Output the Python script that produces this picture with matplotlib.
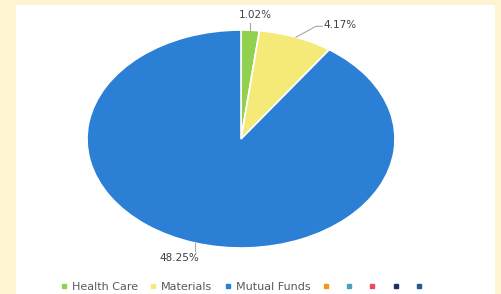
import numpy as np
import matplotlib.pyplot as plt
from matplotlib.patches import Rectangle
from matplotlib.lines import Line2D

# pie data (raw values shown as labels)
sectors = ['Health Care', 'Materials', 'Mutual Funds', '', '', '', '', '']
values = [1.02, 4.17, 48.25, 0, 0, 0, 0, 0]
colors = ['#92d050', '#f5ea78', '#2b7fd5', '#f7941d', '#4aa3b5', '#f5475a', '#1f2f66', '#245b8f']

fig = plt.figure(figsize=(5.02, 2.94), dpi=100)
fig.patch.set_facecolor('#fef4d2')
fig.patches.append(Rectangle((16 / 502, 0), (495 - 16) / 502, 1 - 5 / 294,
                             transform=fig.transFigure, facecolor='white',
                             edgecolor='none', zorder=-10))

ax = fig.add_axes([87 / 502, 46 / 294, 308 / 502, 218 / 294])
ax.set_zorder(1)
shown = [v for v in values if v > 0]
ax.pie(shown, colors=colors[:len(shown)], startangle=90, counterclock=False,
       wedgeprops=dict(edgecolor='white', linewidth=1.2), radius=1)
ax.set_aspect('auto')
ax.set_xlim(-1, 1)
ax.set_ylim(-1, 1)
ax.axis('off')

# leader lines and labels
total = sum(shown)
cum = np.cumsum([0] + shown)
mids = (cum[:-1] + cum[1:]) / 2 / total * 2 * np.pi
lc = '#a6a6a6'
tc = '#404040'
for i, (v, a) in enumerate(zip(shown, mids)):
    x0, y0 = np.sin(a), np.cos(a)
    if i == 0:
        ax.plot([x0, x0], [y0, 1.06], color=lc, lw=0.8, clip_on=False)
        ax.text(x0 + 0.03, 1.09, f'{v:.2f}%', ha='center', va='bottom',
                fontsize=7.5, color=tc)
    elif i == 1:
        ax.plot([x0, x0 + 0.13, x0 + 0.17], [y0, y0 + 0.1, y0 + 0.1],
                color=lc, lw=0.8, clip_on=False)
        ax.text(x0 + 0.18, y0 + 0.11, f'{v:.2f}%', ha='left', va='center',
                fontsize=7.5, color=tc)
    else:
        ax.plot([x0, x0], [y0, y0 - 0.07], color=lc, lw=0.8, clip_on=False)
        ax.text(x0 - 0.1, y0 - 0.09, f'{v:.2f}%', ha='center', va='top',
                fontsize=7.5, color=tc)

handles = [Line2D([], [], marker='s', linestyle='none', markersize=3,
                  markerfacecolor=c, markeredgecolor=c) for c in colors]
leg = fig.legend(handles, sectors, loc='center', bbox_to_anchor=(244 / 502, 1 - 287 / 294),
                 ncol=len(sectors), frameon=False, fontsize=8, handlelength=0.5,
                 handletextpad=0.5, columnspacing=1.1, labelcolor='#595959',
                 borderaxespad=0)

fig.savefig('out.png', dpi=100, facecolor=fig.get_facecolor())
